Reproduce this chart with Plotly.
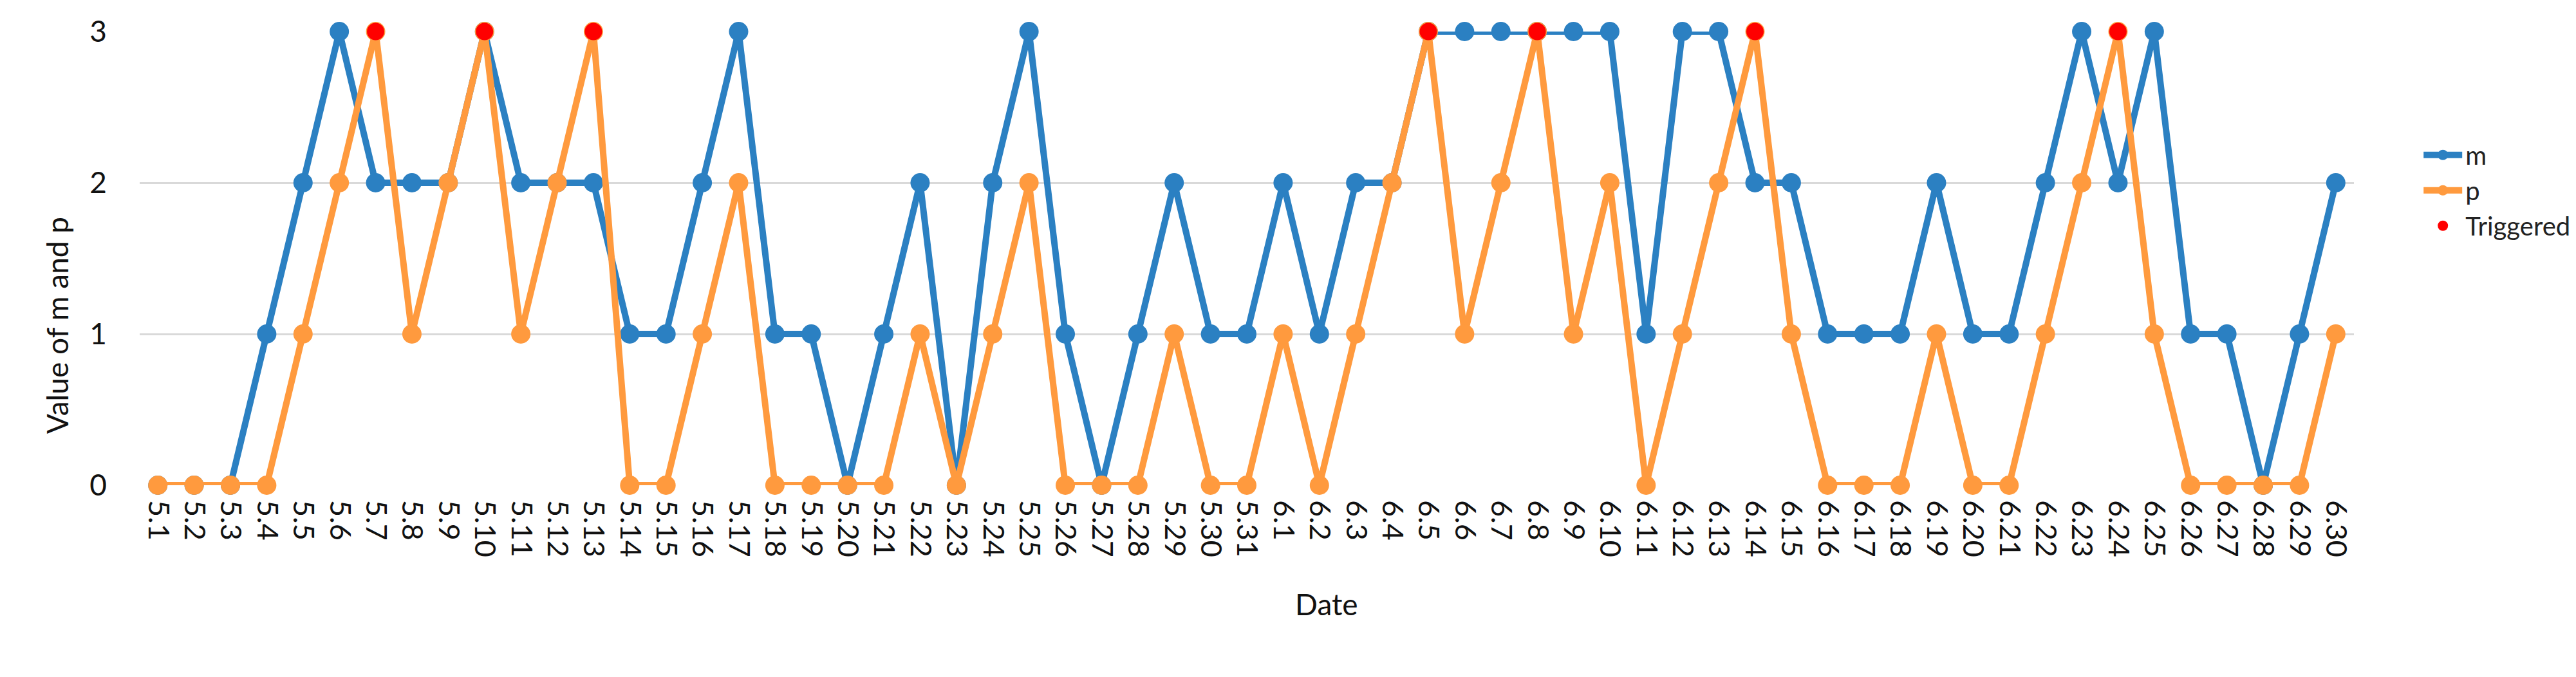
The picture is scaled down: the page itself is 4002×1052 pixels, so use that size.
import plotly.graph_objects as go

dates = ["5.%d" % d for d in range(1, 32)] + ["6.%d" % d for d in range(1, 31)]

m_values = [0, 0, 0, 1, 2, 3, 2, 2, 2, 3, 2, 2, 2, 1, 1, 2, 3, 1, 1, 0,
            1, 2, 0, 2, 3, 1, 0, 1, 2, 1, 1,
            2, 1, 2, 2, 3, 3, 3, 3, 3, 3, 1, 3, 3, 2, 2, 1, 1, 1, 2,
            1, 1, 2, 3, 2, 3, 1, 1, 0, 1, 2]

p_values = [0, 0, 0, 0, 1, 2, 3, 1, 2, 3, 1, 2, 3, 0, 0, 1, 2, 0, 0, 0,
            0, 1, 0, 1, 2, 0, 0, 0, 1, 0, 0,
            1, 0, 1, 2, 3, 1, 2, 3, 1, 2, 0, 1, 2, 3, 1, 0, 0, 0, 1,
            0, 0, 1, 2, 3, 1, 0, 0, 0, 0, 1]

triggered_dates = ["5.7", "5.10", "5.13", "6.5", "6.8", "6.14", "6.24"]
triggered_values = [3, 3, 3, 3, 3, 3, 3]

BLUE = "#2B80C2"
ORANGE = "#FF9A3E"
FONT = "Lato"

fig = go.Figure()
fig.add_trace(go.Scatter(x=dates, y=m_values, name="m", mode="lines+markers",
                         line=dict(color=BLUE, width=10),
                         marker=dict(color=BLUE, size=30),
                         cliponaxis=False))
fig.add_trace(go.Scatter(x=dates, y=p_values, name="p", mode="lines+markers",
                         line=dict(color=ORANGE, width=10),
                         marker=dict(color=ORANGE, size=30),
                         cliponaxis=False))
fig.add_trace(go.Scatter(x=triggered_dates, y=triggered_values, name="Triggered",
                         mode="markers",
                         marker=dict(color="#FF0000", size=27),
                         cliponaxis=False))

fig.update_layout(
    width=4002, height=1052,
    paper_bgcolor="white", plot_bgcolor="white",
    margin=dict(l=209, r=339, t=31, b=306),
    font=dict(family=FONT, size=44, color="#111111"),
    showlegend=True,
    legend=dict(x=1.03, xanchor="left", y=0.65, yanchor="middle",
                font=dict(size=40, color="#222222"),
                itemwidth=60),
    xaxis=dict(type="category", categoryorder="array", categoryarray=dates,
               range=[-0.5, len(dates) - 0.5],
               tickangle=90, showgrid=False, showline=False, zeroline=False,
               ticks="", ticklabelstandoff=22,
               tickfont=dict(size=45, family=FONT, color="#111111")),
    yaxis=dict(range=[0, 3], tickvals=[0, 1, 2, 3], showgrid=True,
               gridcolor="#D9D9D9", gridwidth=3, zeroline=False,
               showline=False, ticks="", ticklabelstandoff=50,
               tickfont=dict(size=46, family=FONT, color="#111111")),
    annotations=[
        dict(text="Value of m and p", xref="paper", yref="paper",
             x=-0.0457, y=0.352, textangle=-90, showarrow=False,
             font=dict(size=46, family=FONT, color="#111111")),
        dict(text="Date", xref="paper", yref="paper",
             x=0.536, y=-0.303, showarrow=False,
             font=dict(size=46, family=FONT, color="#111111")),
    ],
)

fig.write_html("out.html")
